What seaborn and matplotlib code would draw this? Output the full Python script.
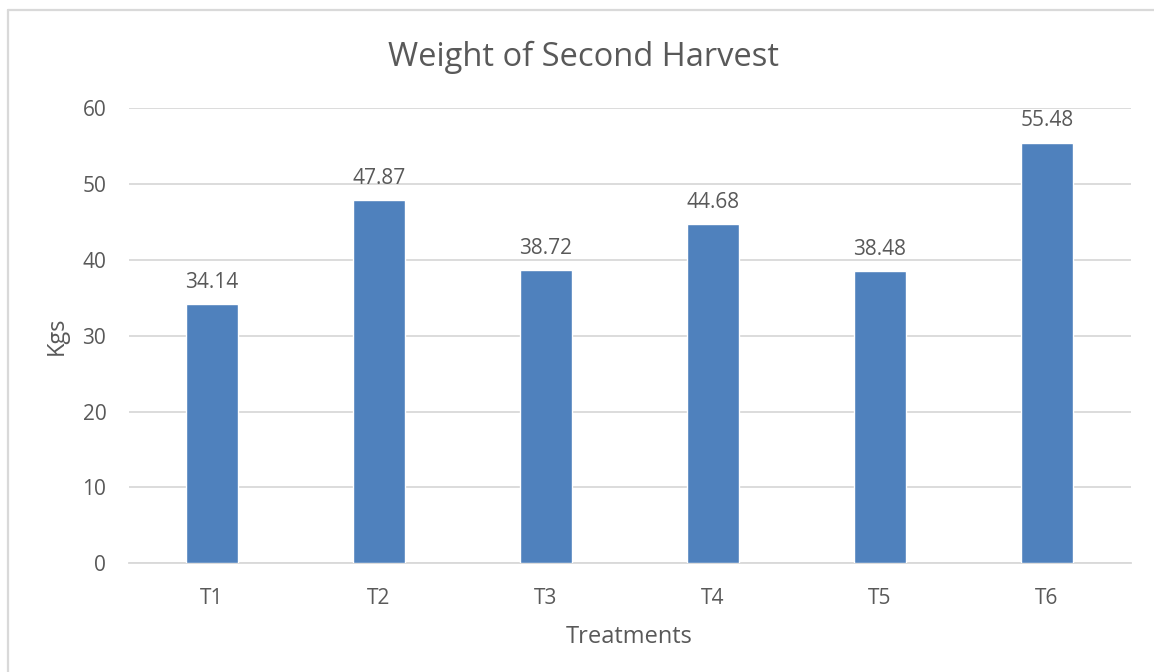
import matplotlib
matplotlib.use("Agg")
import matplotlib.pyplot as plt
import seaborn as sns
import pandas as pd
from matplotlib.lines import Line2D

treatments = ["T1", "T2", "T3", "T4", "T5", "T6"]
weights = [34.14, 47.87, 38.72, 44.68, 38.48, 55.48]
y_ticks = [0, 10, 20, 30, 40, 50, 60]

df = pd.DataFrame({"Treatment": treatments, "Weight": weights})

sns.set_theme(style="white")
plt.rcParams["font.family"] = ["Open Sans", "DejaVu Sans"]

text_color = "#595959"
grid_color = "#D9D9D9"
bar_color = "#4F81BD"

fig = plt.figure(figsize=(11.54, 6.72), dpi=100)
ax = fig.add_axes([128.5 / 1154, 1 - 563.3 / 672, 1002 / 1154, (563.3 - 108.3) / 672])

sns.barplot(data=df, x="Treatment", y="Weight", color=bar_color, width=0.31,
            saturation=1, ax=ax, zorder=3)

ax.set_ylim(0, 60)
ax.set_xlim(-0.5, len(treatments) - 0.5)
ax.set_yticks(y_ticks)
ax.yaxis.grid(True, color=grid_color, linewidth=1.3, zorder=0)
ax.xaxis.grid(False)
for side in ["top", "right", "left"]:
    ax.spines[side].set_visible(False)
ax.spines["bottom"].set_color(grid_color)
ax.spines["bottom"].set_linewidth(1.3)
ax.tick_params(axis="both", length=0, labelsize=15, labelcolor=text_color)
ax.tick_params(axis="y", pad=16)
ax.tick_params(axis="x", pad=18)

for i, v in enumerate(weights):
    ax.annotate(f"{v:.2f}", xy=(i, v), xytext=(0, 8), textcoords="offset points",
                ha="center", va="bottom", fontsize=15, color=text_color)

ax.set_xlabel("Treatments", fontsize=17, color=text_color, labelpad=11)
ax.set_ylabel("Kgs", fontsize=17, color=text_color, labelpad=10)

fig.text(583 / 1154, 1 - 57 / 672, "Weight of Second Harvest", ha="center", va="center",
         fontsize=23.5, color=text_color)

# light frame along the top and left edges of the chart area
fig.add_artist(Line2D([8 / 1154, 8 / 1154], [0, 1 - 10 / 672], transform=fig.transFigure,
                      color=grid_color, linewidth=1.6))
fig.add_artist(Line2D([8 / 1154, 1], [1 - 10 / 672, 1 - 10 / 672], transform=fig.transFigure,
                      color=grid_color, linewidth=1.6))

fig.savefig("out.png", dpi=100, facecolor="white")
